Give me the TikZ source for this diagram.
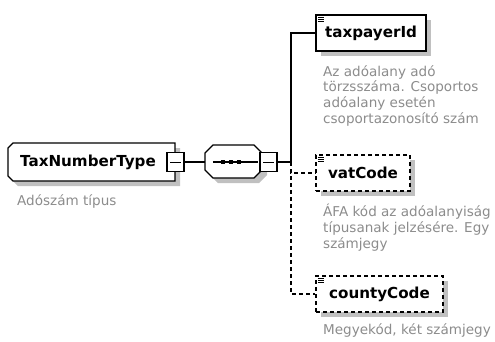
\documentclass[tikz,border=0pt]{standalone}
\usepackage{fontspec}
\setmainfont{DejaVu Sans}
\usetikzlibrary{shadows}
\definecolor{shadowgray}{RGB}{192,192,192}
\definecolor{docgray}{RGB}{140,140,140}

\begin{document}
\begin{tikzpicture}[x=1bp,y=-1bp,
  boxshadow/.style={drop shadow={shadow xshift=5bp,shadow yshift=-5bp,fill=shadowgray,opacity=1}},
  outline/.style={draw,line width=1.3bp,fill=white,boxshadow},
  elem/.style={outline,minimum height=36bp,inner sep=0pt,font=\fontsize{15.2}{16}\bfseries},
  opt/.style={elem,dash pattern=on 4bp off 3bp},
  label/.style={inner sep=0pt,font=\fontsize{15.2}{16}\bfseries},
  doc/.style={anchor=north west,inner sep=0pt,align=left,text=docgray,font=\fontsize{13.6}{16}\selectfont},
  minus/.style={draw,line width=1.6bp,fill=white,minimum width=17bp,minimum height=19bp,inner sep=0pt},
  conn/.style={line width=1.3bp}]
  \useasboundingbox (0,0) rectangle (495,341);

  %complex type
  \draw[outline] (13,143) -- (175,143) -- (175,181) -- (13,181) -- (8,176) -- (8,148) -- cycle;
  \node[label] (tnt) at (88,162) {TaxNumberType};
  \node[minus] (tntm) at (175.5,162) {};
  \draw ([xshift=4bp]tntm.west) -- ([xshift=-4bp]tntm.east);
  \node[doc] (tntdoc) at (17,194) {Adószám típus};

  %sequence
  \draw[outline] (213,145) -- (254,145) -- (262,153) -- (262,170) -- (254,178) -- (213,178) -- (205,170) -- (205,153) -- cycle;
  \node[minimum width=57bp,minimum height=33bp,inner sep=0pt] (seq) at (233.5,162) {};
  \draw[conn] ([xshift=8bp]seq.west) -- ([xshift=-4bp]seq.east);
  \foreach \dx in {-10.5,-2.5,5.5}
    \fill ([xshift=\dx bp]seq.center) +(-2,-2) rectangle +(2,2);
  \node[minus] (seqm) at (268.5,162) {};
  \draw ([xshift=4bp]seqm.west) -- ([xshift=-4bp]seqm.east);
  \coordinate (trunk) at (291,162);

  \draw[conn] (tntm.east) -- (seq.west);
  \draw[conn] (seqm.east) -- (trunk);

  %elements
  \node[elem,minimum width=110bp] (tp) at (371,33) {taxpayerId};
  \node[opt,minimum width=94bp] (vat) at (363,173) {vatCode};
  \node[opt,minimum width=127bp] (cty) at (379.5,294) {countyCode};
  \foreach \n in {tp,vat,cty}
    \foreach \dy in {3,5,7}
      \draw[line width=0.8bp] ([xshift=3bp,yshift=-\dy bp]\n.north west) -- +(6,0);

  \draw[conn] (trunk) |- (tp.west);
  \draw[conn,dash pattern=on 4bp off 3bp] (trunk) |- (vat.west);
  \draw[conn,dash pattern=on 4bp off 3bp] (trunk) |- (cty.west);

  %documentation
  \node[doc] (tpdoc) at (323,65) {Az adóalany adó\\törzsszáma. Csoportos\\adóalany esetén\\csoportazonosító szám};
  \node[doc] (vatdoc) at (323,204) {ÁFA kód az adóalanyiság\\típusanak jelzésére. Egy\\számjegy};
  \node[doc] (ctydoc) at (323,323) {Megyekód, két számjegy};
\end{tikzpicture}
\end{document}
